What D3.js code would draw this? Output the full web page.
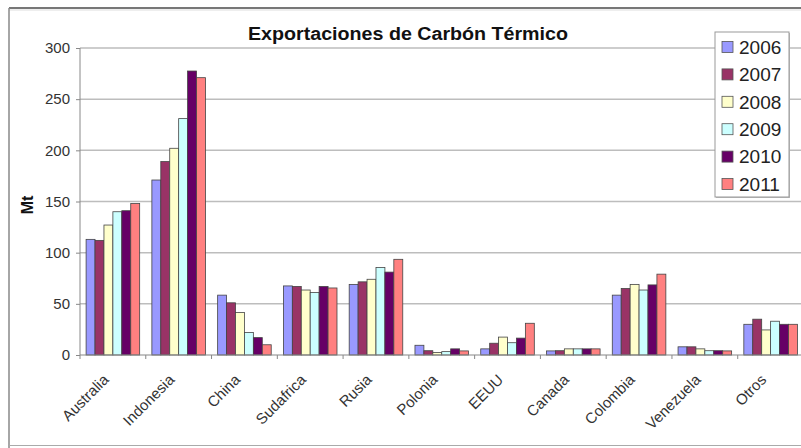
<!DOCTYPE html>
<html><head><meta charset="utf-8">
<script src="https://cdn.jsdelivr.net/npm/d3@7"></script>
<style>body{margin:0;background:#fff}svg{display:block}</style>
</head><body><svg id="c" width="801" height="448"></svg>
<script>
const categories = ["Australia","Indonesia","China","Sudafrica","Rusia","Polonia","EEUU","Canada","Colombia","Venezuela","Otros"];
const years = ["2006","2007","2008","2009","2010","2011"];
const colors = ["#9999FF","#993366","#FFFFCC","#CCFFFF","#660066","#FF8080"];
const v2006 = [113,171,58.5,67.5,69,9.5,6,4,58.5,8,30];
const v2007 = [112,189,51,67,71.5,4.2,11.5,4.2,65,8,35];
const v2008 = [127,202,41.5,63.5,74,2.5,17.5,6,69,6,24.5];
const v2009 = [140,231,22,61,85.5,3.3,12,6,63.5,4.2,33];
const v2010 = [141,277.5,17,67,81,6,16.5,6,68.5,4.2,30];
const v2011 = [148,271,10,65.5,93.5,4,31,6,79,4,30];
const series = [v2006,v2007,v2008,v2009,v2010,v2011];
const yTicks = [0,50,100,150,200,250,300];

(function(){
const svg = d3.select("#c");
const pL = 80, pR = 803.5, pT = 48, pB = 355;
const font = "Arial, 'Liberation Sans', sans-serif";

// outer frame
svg.append("line").attr("x1",9).attr("x2",801).attr("y1",8).attr("y2",8).attr("stroke","#777").attr("stroke-width",2);
svg.append("line").attr("x1",9).attr("x2",801).attr("y1",10).attr("y2",10).attr("stroke","#ddd").attr("stroke-width",1);
svg.append("line").attr("x1",9).attr("x2",9).attr("y1",8).attr("y2",448).attr("stroke","#888").attr("stroke-width",1.5);
svg.append("line").attr("x1",9).attr("x2",801).attr("y1",445.5).attr("y2",445.5).attr("stroke","#aaa").attr("stroke-width",1);

const y = d3.scaleLinear().domain([0,300]).range([pB, pT]);
const x0 = d3.scaleBand().domain(categories).range([pL, pR]).paddingInner(0).paddingOuter(0);
const x1 = d3.scaleBand().domain(years).range([6.1, x0.bandwidth()-6.1]).padding(0);

// gridlines
svg.append("g").selectAll("line").data(yTicks.filter(d=>d>0)).join("line")
  .attr("x1",pL).attr("x2",801).attr("y1",d=>y(d)).attr("y2",d=>y(d))
  .attr("stroke","#bdbdbd").attr("stroke-width",1.5);

// bars
const g = svg.append("g");
categories.forEach((c,i)=>{
  years.forEach((yr,j)=>{
    const v = series[j][i];
    g.append("rect")
      .attr("x", x0(c)+x1(yr)).attr("width", x1.bandwidth())
      .attr("y", y(v)).attr("height", y(0)-y(v))
      .attr("fill", colors[j]).attr("stroke","#444").attr("stroke-width",0.8);
  });
});

// y axis
const yAxis = d3.axisLeft(y).tickValues(yTicks).tickSize(4).tickPadding(6);
const ya = svg.append("g").attr("transform",`translate(${pL},0)`).call(yAxis);
ya.select(".domain").attr("stroke","#888").attr("d",`M0,${pT}V${pB}`);
ya.selectAll(".tick line").attr("stroke","#888");
ya.selectAll("text").attr("font-family",font).attr("font-size",15).attr("fill","#333");

// x axis
const xa = svg.append("g").attr("transform",`translate(0,${pB})`);
xa.append("line").attr("x1",pL).attr("x2",801).attr("stroke","#888").attr("stroke-width",1.2);
xa.selectAll(".tk").data(categories.concat(["_end"])).join("line")
  .attr("x1",(d,i)=>pL+i*x0.step()).attr("x2",(d,i)=>pL+i*x0.step())
  .attr("y1",0).attr("y2",4).attr("stroke","#888");
xa.selectAll(".lbl").data(categories).join("text")
  .attr("transform", d=>`translate(${x0(d)+x0.bandwidth()/2-7},${22}) rotate(-45)`)
  .attr("text-anchor","end").attr("dy","0.35em")
  .attr("font-family",font).attr("font-size",15).attr("fill","#333").text(d=>d);

// title
svg.append("text").attr("x",248).attr("y",40).attr("text-anchor","start")
  .attr("textLength",320).attr("lengthAdjust","spacingAndGlyphs")
  .attr("font-family",font).attr("font-weight","bold").attr("font-size",18).attr("fill","#111")
  .text("Exportaciones de Carbón Térmico");

// y title
svg.append("text").attr("transform","translate(33,205) rotate(-90)").attr("text-anchor","middle")
  .attr("font-family",font).attr("font-weight","bold").attr("font-size",16).attr("fill","#111").text("Mt");

// legend
const lg = svg.append("g");
lg.append("rect").attr("x",716).attr("y",33).attr("width",74).attr("height",165).attr("fill","#bbb");
lg.append("rect").attr("x",715).attr("y",32).attr("width",74).attr("height",165).attr("fill","#fff").attr("stroke","#999").attr("stroke-width",1);
const ly = d3.scalePoint().domain(years).range([47,184]);
lg.selectAll(".sw").data(years).join("rect")
  .attr("x",722).attr("y",d=>ly(d)-5.5).attr("width",11).attr("height",11)
  .attr("fill",(d,i)=>colors[i]).attr("stroke","#555").attr("stroke-width",0.8);
lg.selectAll(".lt").data(years).join("text")
  .attr("x",739).attr("y",d=>ly(d)).attr("dy","0.36em")
  .attr("font-family",font).attr("font-size",19).attr("fill","#222").text(d=>d);
})();
</script></body></html>
